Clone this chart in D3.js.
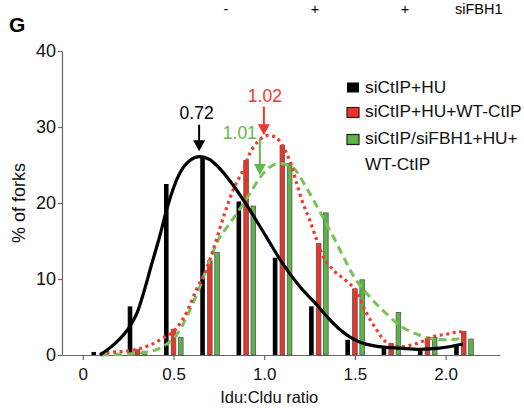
<!DOCTYPE html>
<html>
<head>
<meta charset="utf-8">
<script src="https://cdn.jsdelivr.net/npm/d3@7"></script>
<style>
  html, body { margin: 0; padding: 0; background: #fff; }
  svg { display: block; font-family: "Liberation Sans", Arial, sans-serif; }
</style>
</head>
<body>
<div id="chart"></div>
<script>
// bin centres (Idu:Cldu ratio) and % of forks per condition
const bins = [0.1, 0.3, 0.5, 0.7, 0.9, 1.1, 1.3, 1.5, 1.7, 1.9, 2.1];
const huBars = [0.4, 6.4, 22.5, 26, 20.2, 12.8, 6.4, 2.0, 1.1, 0.75, 1.45];
const wtBars = [0, 0.7, 3.4, 12.4, 25.6, 27.6, 14.7, 8.7, 1.5, 2.2, 3.1];
const fbhBars = [0, 0.5, 2.3, 13.5, 19.6, 25.2, 18.7, 9.9, 5.6, 2.3, 2.1];

// fitted curves as [ratio, %]
const huCurve = [[0.094, 0], [0.167, 1.3], [0.26, 3.8], [0.3, 5.6], [0.34, 8.6], [0.38, 12], [0.42, 15.3],
  [0.47, 19.8], [0.534, 23.9], [0.59, 25.6], [0.645, 26.1], [0.7, 25.7], [0.736, 25], [0.827, 22.4],
  [0.92, 19.1], [1.01, 15.6], [1.1, 12.1], [1.196, 9.0], [1.29, 6.6], [1.36, 4.7], [1.42, 3.3],
  [1.526, 1.7], [1.636, 1.1], [1.75, 0.9], [1.857, 0.75], [1.967, 0.9], [2.095, 1.45]];
const wtCurve = [[0.094, 0.2], [0.18, 0.4], [0.28, 0.66], [0.37, 1.3], [0.44, 2.2], [0.516, 3.5], [0.57, 5.5],
  [0.626, 8.6], [0.68, 11.2], [0.718, 13.8], [0.78, 18.5], [0.83, 21.8], [0.883, 24.3], [0.92, 26.5],
  [0.97, 28.2], [1.02, 28.9], [1.06, 28.7], [1.1, 27.6], [1.14, 25.6], [1.18, 22.5], [1.21, 20.2],
  [1.25, 17.8], [1.29, 15.1], [1.32, 13.2], [1.38, 11.2], [1.45, 9.8], [1.51, 8.3], [1.56, 5.7],
  [1.62, 3.3], [1.67, 1.75], [1.75, 1.1], [1.84, 1.5], [1.93, 2.4], [2.04, 2.9], [2.07, 3.1], [2.1, 2.9]];
const fbhCurve = [[0.1, 0], [0.2, 0.1], [0.33, 0.3], [0.44, 1.1], [0.516, 2.6], [0.59, 5.9], [0.645, 9.0],
  [0.7, 12.5], [0.746, 15.1], [0.8, 17], [0.865, 19.2], [0.92, 21.2], [0.975, 23.3], [1.03, 24.7],
  [1.085, 25.2], [1.16, 24.6], [1.23, 22.1], [1.306, 18.9], [1.38, 15.6], [1.45, 12.3], [1.49, 10.5],
  [1.58, 7.7], [1.67, 5.5], [1.76, 3.7], [1.857, 2.6], [1.91, 2.2], [2.0, 2.0], [2.095, 2.2]];

// peak annotations: label, arrow x (ratio), arrow tip / tail (%)
const peakLabels = ['0.72', '1.02', '1.01'];
const peakX = [0.641, 0.998, 0.976];
const peakTip = [26.8, 28.9, 23.7];
const peakTail = [30.3, 32.7, 28.6];

const seriesNames = ['siCtIP+HU', 'siCtIP+HU+WT-CtIP', 'siCtIP/siFBH1+HU+', 'WT-CtIP'];
const xTicks = [0, 0.5, 1.0, 1.5, 2.0];
const yTicks = [0, 10, 20, 30, 40];
const topLabels = ['-', '+', '+', 'siFBH1'];

const width = 524;
const height = 408;

const col = {
  hu: '#000000',
  wt: '#e8352b',
  fbh: '#5db446',
  wtLine: '#ef3b30',
  fbhLine: '#78c257',
  wtText: '#ea3a2f',
  fbhText: '#62b848',
  outline: '#555555',
  axis: '#666666'
};

const svg = d3
  .select('#chart')
  .append('svg')
  .attr('width', width)
  .attr('height', height);

const x = d3.scaleLinear().domain([-0.115, 2.3]).range([62, 500]);
const y = d3.scaleLinear().domain([0, 40]).range([355, 51]);

// axes
const xAxis = svg
  .append('g')
  .attr('transform', `translate(0, ${y(0)})`)
  .call(
    d3.axisBottom(x)
      .tickValues(xTicks)
      .tickFormat((d) => (d === 0 ? '0' : d.toFixed(1)))
      .tickSize(5)
      .tickSizeOuter(0)
      .tickPadding(8)
  );

const yAxis = svg
  .append('g')
  .attr('transform', `translate(${x.range()[0]}, 0)`)
  .call(d3.axisLeft(y).tickValues(yTicks).tickSize(4).tickSizeOuter(0).tickPadding(2));

[xAxis, yAxis].forEach((g) => {
  g.select('.domain').attr('stroke', col.axis).attr('stroke-width', 1.2);
  g.selectAll('.tick line').attr('stroke', col.axis).attr('stroke-width', 1.2);
  g.selectAll('.tick text').attr('fill', '#111').style('font-size', '17px');
});
yAxis.selectAll('.tick text').style('font-size', '18px');

svg
  .append('text')
  .attr('transform', `translate(25, ${y(20)}) rotate(-90)`)
  .attr('text-anchor', 'middle')
  .style('font-size', '18px')
  .attr('fill', '#111')
  .text('% of forks');

svg
  .append('text')
  .attr('x', (x(0) + x(2)) / 2 + 5)
  .attr('y', 403)
  .attr('text-anchor', 'middle')
  .style('font-size', '16.5px')
  .attr('fill', '#111')
  .text('Idu:Cldu ratio');

// panel letter and top row
svg
  .append('text')
  .attr('x', 9)
  .attr('y', 32)
  .style('font-size', '21px')
  .style('font-weight', 'bold')
  .text('G');

svg
  .append('g')
  .selectAll('text')
  .data(topLabels)
  .join('text')
  .attr('x', (d, i) => [226, 315, 405, 455][i])
  .attr('y', 13.5)
  .attr('text-anchor', (d, i) => (i < 3 ? 'middle' : 'start'))
  .style('font-size', '14.5px')
  .text((d) => d);

// bars
const barW = 4.6;
const barOffset = 0.04;
const barSets = [
  { values: huBars, dx: -barOffset, fill: col.hu, stroke: 'none' },
  { values: wtBars, dx: 0, fill: col.wt, stroke: col.outline },
  { values: fbhBars, dx: barOffset, fill: col.fbh, stroke: col.outline }
];

const bars = svg.append('g').attr('class', 'bars');
barSets.forEach((set) => {
  bars
    .append('g')
    .selectAll('rect')
    .data(d3.zip(bins, set.values).filter(([, v]) => v > 0))
    .join('rect')
    .attr('x', ([b]) => x(b + set.dx) - barW / 2)
    .attr('y', ([, v]) => y(v))
    .attr('width', barW)
    .attr('height', ([, v]) => y(0) - y(v))
    .attr('fill', set.fill)
    .attr('stroke', set.stroke)
    .attr('stroke-width', 0.8);
});

// curves
const line = d3
  .line()
  .x((d) => x(d[0]))
  .y((d) => y(d[1]))
  .curve(d3.curveMonotoneX);

svg
  .append('path')
  .datum(fbhCurve)
  .attr('d', line)
  .attr('fill', 'none')
  .attr('stroke', col.fbhLine)
  .attr('stroke-width', 3)
  .attr('stroke-dasharray', '8 5');

svg
  .append('path')
  .datum(wtCurve)
  .attr('d', line)
  .attr('fill', 'none')
  .attr('stroke', col.wtLine)
  .attr('stroke-width', 3.2)
  .attr('stroke-dasharray', '3 3.6');

svg
  .append('path')
  .datum(huCurve)
  .attr('d', line)
  .attr('fill', 'none')
  .attr('stroke', col.hu)
  .attr('stroke-width', 3.2);

// peak arrows
const peakColors = [col.hu, col.wtText, col.fbhText];
const arrows = svg.append('g').attr('class', 'arrows');
peakLabels.forEach((label, i) => {
  const ax = x(peakX[i]);
  const tip = y(peakTip[i]);
  const tail = y(peakTail[i]);
  arrows
    .append('line')
    .attr('x1', ax)
    .attr('x2', ax)
    .attr('y1', tail)
    .attr('y2', tip - 8)
    .attr('stroke', peakColors[i])
    .attr('stroke-width', 2);
  arrows
    .append('path')
    .attr('d', `M${ax - 6},${tip - 11}L${ax + 6},${tip - 11}L${ax},${tip}Z`)
    .attr('fill', peakColors[i]);
});

arrows
  .selectAll('text')
  .data(peakLabels)
  .join('text')
  .attr('x', (d, i) => x(peakX[i]) + [-2.5, 1, -3][i])
  .attr('y', (d, i) => y(peakTail[i]) - [6, 4, -1][i])
  .attr('text-anchor', (d, i) => (i === 2 ? 'end' : 'middle'))
  .style('font-size', '17.5px')
  .attr('fill', (d, i) => peakColors[i])
  .text((d) => d);

// legend
const legendFill = [col.hu, col.wt, col.fbh];
const legend = svg.append('g').attr('transform', 'translate(347, 0)');
legend
  .selectAll('rect')
  .data(legendFill)
  .join('rect')
  .attr('x', 0)
  .attr('y', (d, i) => [82.5, 107.5, 134.5][i])
  .attr('width', 12)
  .attr('height', 10)
  .attr('fill', (d) => d)
  .attr('stroke', (d, i) => (i === 0 ? 'none' : '#222'))
  .attr('stroke-width', 1.2);

legend
  .selectAll('text')
  .data(seriesNames)
  .join('text')
  .attr('x', 18)
  .attr('y', (d, i) => [92.5, 117, 144, 170][i])
  .style('font-size', '17.3px')
  .attr('fill', '#111')
  .text((d) => d);
</script>
</body>
</html>
